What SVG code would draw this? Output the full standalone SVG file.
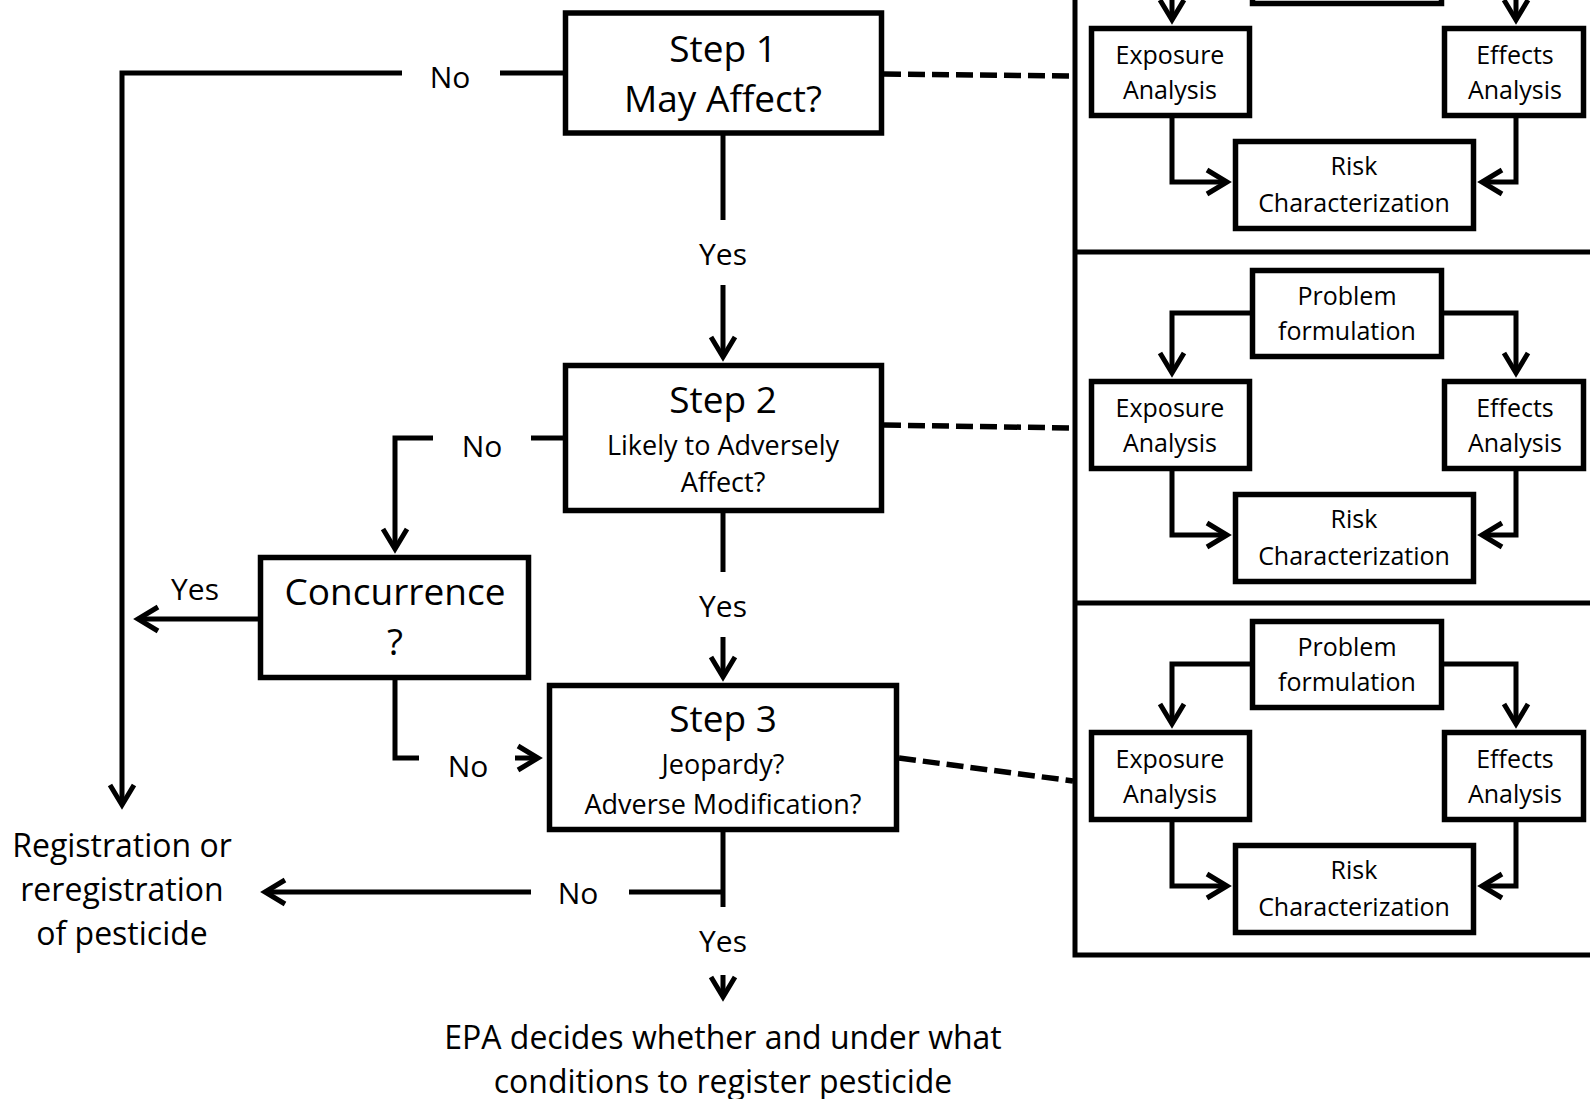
<svg xmlns="http://www.w3.org/2000/svg" width="1590" height="1099" viewBox="0 0 1590 1099">
<style>
.box{fill:#fff;stroke:#000;stroke-width:5.5}
.ln{fill:none;stroke:#000;stroke-width:5}
.ar{fill:none;stroke:#000;stroke-width:5;marker-end:url(#ah)}
.dash{fill:none;stroke:#000;stroke-width:5.5;stroke-dasharray:17 7}
text{font-family:"Open Sans","Liberation Sans",sans-serif;fill:#000;text-anchor:middle}
.t1{font-size:37px}
.t2{font-size:27px}
.lb{font-size:30px}
.out{font-size:32px}
.pt{font-size:25px}
</style>
<defs>
<marker id="ah" markerUnits="userSpaceOnUse" markerWidth="50" markerHeight="50" viewBox="-25 -25 50 50" refX="0" refY="0" orient="auto" overflow="visible">
<path d="M-20,-12 L0,0 L-20,12" fill="none" stroke="#000" stroke-width="5"/>
</marker>
</defs>
<rect width="1590" height="1099" fill="#fff"/>

<g id="connectors">
<path class="ln" d="M563,73 H500"/>
<path class="ar" d="M402,73 H122 V805"/>
<path class="ln" d="M723,135 V220"/>
<path class="ar" d="M723,285 V357"/>
<path class="ln" d="M563,438 H531"/>
<path class="ar" d="M433,438 H395 V549"/>
<path class="ar" d="M258,619 H138"/>
<path class="ln" d="M395,680 V758 H419"/>
<path class="ar" d="M515,758 H538"/>
<path class="ln" d="M723,513 V572"/>
<path class="ar" d="M723,637 V677"/>
<path class="ln" d="M723,832 V907"/>
<path class="ln" d="M723,892 H629"/>
<path class="ar" d="M531,892 H265"/>
<path class="ar" d="M723,975 V997"/>
<path class="dash" d="M884,74 L1073,76"/>
<path class="dash" d="M884,425 L1073,428"/>
<path class="dash" d="M899,758 L1073,781"/>
<text class="lb" x="450" y="88">No</text>
<text class="lb" x="723" y="265">Yes</text>
<text class="lb" x="482" y="457">No</text>
<text class="lb" x="195" y="600">Yes</text>
<text class="lb" x="723" y="617">Yes</text>
<text class="lb" x="468" y="777">No</text>
<text class="lb" x="578" y="904">No</text>
<text class="lb" x="723" y="952">Yes</text>
</g>

<g id="step1">
<rect class="box" x="565.5" y="13" width="316" height="120"/>
<text class="t1" x="723" y="62">Step 1</text>
<text class="t1" x="723" y="112">May Affect?</text>
</g>
<g id="step2">
<rect class="box" x="565.5" y="365.5" width="316" height="145"/>
<text class="t1" x="723" y="413">Step 2</text>
<text class="t2" x="723" y="455">Likely to Adversely</text>
<text class="t2" x="723" y="492">Affect?</text>
</g>
<g id="concurrence">
<rect class="box" x="260.5" y="557.5" width="268" height="120"/>
<text class="t1" x="395" y="605">Concurrence</text>
<text class="t1" x="395" y="655">?</text>
</g>
<g id="step3">
<rect class="box" x="549.5" y="685.5" width="347" height="144"/>
<text class="t1" x="723" y="732">Step 3</text>
<text class="t2" x="723" y="774">Jeopardy?</text>
<text class="t2" x="723" y="814">Adverse Modification?</text>
</g>
<g id="registration">
<text class="out" x="122" y="857">Registration or</text>
<text class="out" x="122" y="901">reregistration</text>
<text class="out" x="122" y="945">of pesticide</text>
</g>
<g id="epa-decides">
<text class="out" x="723" y="1049">EPA decides whether and under what</text>
<text class="out" x="723" y="1093">conditions to register pesticide</text>
</g>

<g id="panel-frame">
<path class="ln" d="M1075,-10 V955 H1600"/>
<path class="ln" d="M1075,252 H1600"/>
<path class="ln" d="M1075,603 H1600"/>
</g>

<g id="panel1" transform="translate(0,-353)">
<g id="p1-connectors">
<path class="ar" d="M1250,313 H1172 V373"/>
<path class="ar" d="M1444,313 H1516 V373"/>
<path class="ar" d="M1172,471 V535 H1227"/>
<path class="ar" d="M1516,471 V535 H1482"/>
</g>
<g id="p1-problem"><rect class="box" x="1252.5" y="270.5" width="189" height="86"/></g>
<g id="p1-exposure"><rect class="box" x="1091.5" y="381.5" width="158" height="87"/><text class="pt" x="1170" y="417">Exposure</text><text class="pt" x="1170" y="452">Analysis</text></g>
<g id="p1-effects"><rect class="box" x="1444.5" y="381.5" width="139" height="87"/><text class="pt" x="1515" y="417">Effects</text><text class="pt" x="1515" y="452">Analysis</text></g>
<g id="p1-risk"><rect class="box" x="1235.5" y="494.5" width="238" height="87"/><text class="pt" x="1354" y="528">Risk</text><text class="pt" x="1354" y="565">Characterization</text></g>
</g>

<g id="panel2">
<g id="p2-connectors">
<path class="ar" d="M1250,313 H1172 V373"/>
<path class="ar" d="M1444,313 H1516 V373"/>
<path class="ar" d="M1172,471 V535 H1227"/>
<path class="ar" d="M1516,471 V535 H1482"/>
</g>
<g id="p2-problem"><rect class="box" x="1252.5" y="270.5" width="189" height="86"/><text class="pt" x="1347" y="305">Problem</text><text class="pt" x="1347" y="340">formulation</text></g>
<g id="p2-exposure"><rect class="box" x="1091.5" y="381.5" width="158" height="87"/><text class="pt" x="1170" y="417">Exposure</text><text class="pt" x="1170" y="452">Analysis</text></g>
<g id="p2-effects"><rect class="box" x="1444.5" y="381.5" width="139" height="87"/><text class="pt" x="1515" y="417">Effects</text><text class="pt" x="1515" y="452">Analysis</text></g>
<g id="p2-risk"><rect class="box" x="1235.5" y="494.5" width="238" height="87"/><text class="pt" x="1354" y="528">Risk</text><text class="pt" x="1354" y="565">Characterization</text></g>
</g>

<g id="panel3" transform="translate(0,351)">
<g id="p3-connectors">
<path class="ar" d="M1250,313 H1172 V373"/>
<path class="ar" d="M1444,313 H1516 V373"/>
<path class="ar" d="M1172,471 V535 H1227"/>
<path class="ar" d="M1516,471 V535 H1482"/>
</g>
<g id="p3-problem"><rect class="box" x="1252.5" y="270.5" width="189" height="86"/><text class="pt" x="1347" y="305">Problem</text><text class="pt" x="1347" y="340">formulation</text></g>
<g id="p3-exposure"><rect class="box" x="1091.5" y="381.5" width="158" height="87"/><text class="pt" x="1170" y="417">Exposure</text><text class="pt" x="1170" y="452">Analysis</text></g>
<g id="p3-effects"><rect class="box" x="1444.5" y="381.5" width="139" height="87"/><text class="pt" x="1515" y="417">Effects</text><text class="pt" x="1515" y="452">Analysis</text></g>
<g id="p3-risk"><rect class="box" x="1235.5" y="494.5" width="238" height="87"/><text class="pt" x="1354" y="528">Risk</text><text class="pt" x="1354" y="565">Characterization</text></g>
</g>
</svg>
